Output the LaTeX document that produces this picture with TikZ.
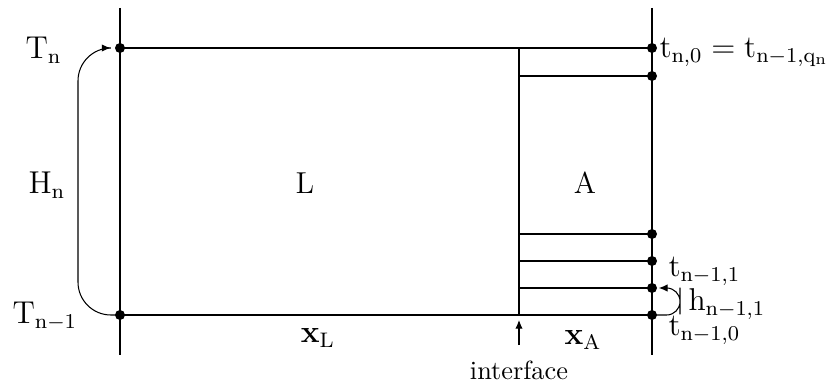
\documentclass[tikz,border=0pt]{standalone}
\usetikzlibrary{arrows.meta}
\newcommand{\ur}[1]{\mathrm{#1}}
\begin{document}
\begin{tikzpicture}[x=0.38pt,y=-0.38pt,
  dot/.style={circle,fill=black,inner sep=0pt,minimum size=3.8pt},
  ln/.style={line width=0.4pt},
  tip/.style={-{Latex[length=3.3pt,width=2.8pt]}},
  lab/.style={inner sep=0pt},
  mlab/.style={inner sep=0pt,font=\fontsize{11.5}{13}\selectfont}]
\useasboundingbox (0,0) rectangle (828,381);
% axes
\coordinate (lt) at (120,8); \coordinate (lb) at (120,355);
\coordinate (rt) at (652,8); \coordinate (rb) at (652,355);
\draw[ln] (lt) -- (lb);
\draw[ln] (rt) -- (rb);
% dots
\node[dot] (Tn) at (120,48) {};
\node[dot] (Tm) at (120,315) {};
\node[dot] (r0) at (652,48) {};
\node[dot] (r1) at (652,76) {};
\node[dot] (r2) at (652,234) {};
\node[dot] (r3) at (652,261) {};
\node[dot] (r4) at (652,288) {};
\node[dot] (r5) at (652,315) {};
% interface
\coordinate (it) at (519,48); \coordinate (ib) at (519,315);
\draw[ln] (Tn.center) -- (r0.center);
\draw[ln] (Tm.center) -- (r5.center);
\draw[line width=0.8pt] (it) -- (ib);
\draw[ln] (519,76) -- (r1.center);
\draw[ln] (519,234) -- (r2.center);
\draw[ln] (519,261) -- (r3.center);
\draw[ln] (519,288) -- (r4.center);
% left loop
\coordinate (lc) at (78,182);
\draw[ln,tip,rounded corners=12.5pt,shorten >=1.5pt] (Tm.center) -| (lc) |- (Tn);
% right loop
\coordinate (rc) at (680,301);
\draw[ln,tip,rounded corners=5.1pt,shorten >=0.5pt] (r5.center) -| (rc) |- (r4);
% interface arrow
\coordinate (ia) at (519,345);
\coordinate (ie) at (519,320);
\draw[ln,tip] (ia) -- (ie);
% labels
\node[mlab,anchor=west] (lTn) at (25,50) {$\ur{T}_\ur{n}$};
\node[mlab,anchor=west] (lHn) at (28,185) {$\ur{H}_\ur{n}$};
\node[mlab,anchor=west] (lTm) at (12,316) {$\ur{T}_{\ur{n}-1}$};
\node[mlab] (lL) at (305,183) {L};
\node[mlab] (lA) at (585,183) {A};
\node[mlab] (lxL) at (318,338) {$\mathbf{x}_\ur{L}$};
\node[mlab] (lxA) at (583,340) {$\mathbf{x}_\ur{A}$};
\node[lab] (lif) at (519,370) {interface};
\node[mlab,anchor=west] (lt0) at (659,52) {$\ur{t}_{\ur{n},0}=\ur{t}_{\ur{n}-1,\ur{q}_\ur{n}}$};
\node[mlab,anchor=west] (lt1) at (668,271) {$\ur{t}_{\ur{n}-1,1}$};
\node[mlab,anchor=west] (lh) at (688,304) {$\ur{h}_{\ur{n}-1,1}$};
\node[mlab,anchor=west] (lt2) at (668,330) {$\ur{t}_{\ur{n}-1,0}$};
\end{tikzpicture}
\end{document}
